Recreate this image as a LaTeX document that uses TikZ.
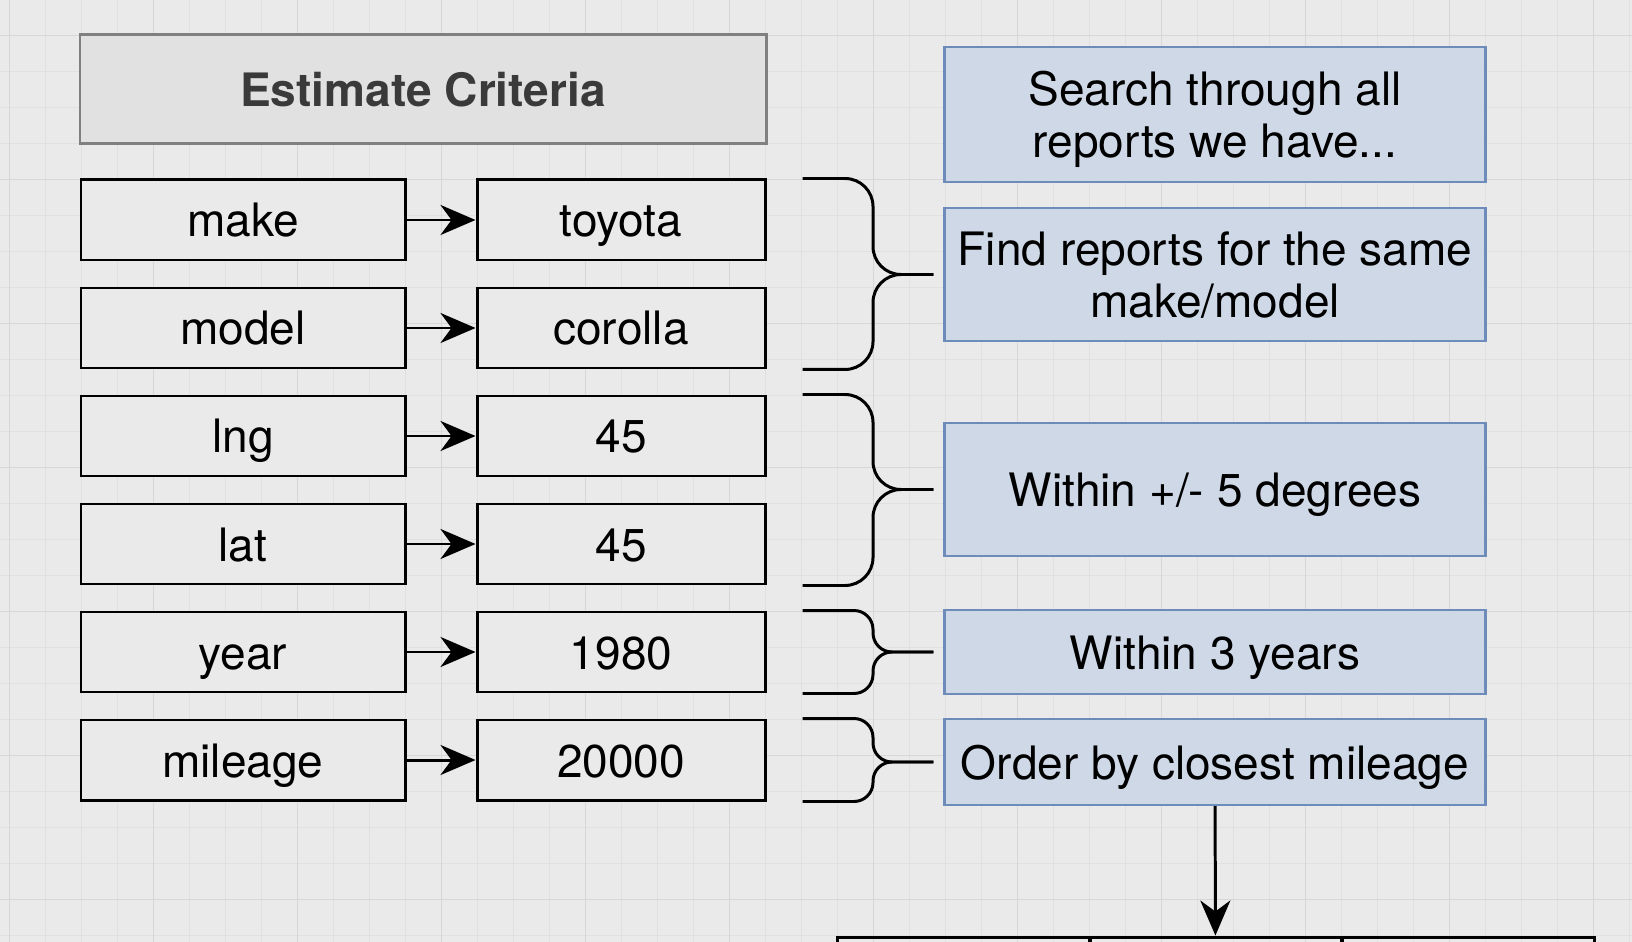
\documentclass[tikz,border=0pt]{standalone}
\usepackage{fontspec}
\setmainfont{TeX Gyre Heros}
\usetikzlibrary{arrows.meta}

\definecolor{bgcol}{RGB}{234,234,234}
\definecolor{gridminor}{RGB}{224,224,224}
\definecolor{gridmajor}{RGB}{215,215,215}
\definecolor{titlefill}{RGB}{225,225,225}
\definecolor{titleline}{RGB}{128,128,128}
\definecolor{titletext}{RGB}{58,58,58}
\definecolor{notefill}{RGB}{206,216,231}
\definecolor{noteline}{RGB}{110,140,186}

\tikzset{
    keybox/.style={draw=black, fill=bgcol, line width=0.85pt, minimum width=3.24cm, minimum height=0.8cm, text height=0.44cm, text depth=0.1cm},
    valbox/.style={keybox, minimum width=2.88cm},
    titlebox/.style={draw=titleline, fill=titlefill, line width=0.85pt, minimum width=6.86cm, minimum height=1.09cm, text=titletext, font=\fontsize{13.1}{14.8}\selectfont\bfseries},
    notebox/.style={draw=noteline, fill=notefill, line width=0.7pt, minimum width=5.41cm, align=center, inner sep=1pt},
    cellbox/.style={draw=black, line width=0.85pt, minimum width=2.53cm, minimum height=0.8cm},
    linkarrow/.style={line width=0.85pt, -{Stealth[length=3.5mm, width=3mm, inset=1.1mm]}},
    critbrace/.style={line width=0.85pt, rounded corners=2.8mm},
}

\begin{document}
\begin{tikzpicture}[x=1cm, y=-1cm, font=\fontsize{13.1}{14.8}\selectfont]
    % background and grid
    \fill[bgcol] (0,0) rectangle (16.32,9.42);
    \useasboundingbox (0,0) rectangle (16.32,9.42);
    \begin{scope}[y=1cm, shift={(0.093,-0.353)}]
        \draw[gridminor, line width=0.3pt, step=0.36] (-0.36,-9.72) grid (16.5,0.72);
        \draw[gridmajor, line width=0.3pt, step=1.44] (-1.44,-10.08) grid (16.5,1.44);
    \end{scope}

    \node[titlebox] (title) at (4.23, 0.895) {Estimate Criteria};

    % criteria rows
    \foreach \k/\v [count=\i] in {make/toyota, model/corolla, lng/45, lat/45, year/1980, mileage/20000} {
        \node[keybox] (k\i) at (2.43, {1.12+1.08*\i}) {\k};
        \node[valbox] (v\i) at (6.21, {1.12+1.08*\i}) {\v};
        \draw[linkarrow] (k\i) -- (v\i);
    }

    % what is done with them
    \node[notebox, minimum height=1.35cm, text depth=0cm] (search) at (12.15, 1.145) {Search through all\\reports we have...};
    \node[notebox, minimum height=1.33cm, text depth=0cm] (find) at (12.15, 2.745) {Find reports for the same\\make/model};
    \node[notebox, minimum height=1.33cm, text height=0.44cm, text depth=0.1cm] (degrees) at (12.15, 4.895) {Within +/- 5 degrees};
    \node[notebox, minimum height=0.84cm, text height=0.44cm, text depth=0.1cm] (years) at (12.15, 6.52) {Within 3 years};
    \node[notebox, minimum height=0.86cm, text height=0.44cm, text depth=0.1cm] (order) at (12.15, 7.62) {Order by closest mileage};

    % braces
    \coordinate (bx) at (8.73, 0);
    \draw[critbrace] ([xshift=3.6mm]v1.north east) -| (bx |- find.west) -- ([xshift=-1mm]find.west);
    \draw[critbrace] ([xshift=3.6mm]v2.south east) -| (bx |- find.west) -- ([xshift=-1mm]find.west);
    \draw[critbrace] ([xshift=3.6mm]v3.north east) -| (bx |- degrees.west) -- ([xshift=-1mm]degrees.west);
    \draw[critbrace] ([xshift=3.6mm]v4.south east) -| (bx |- degrees.west) -- ([xshift=-1mm]degrees.west);
    \draw[critbrace, rounded corners=1.9mm] ([xshift=3.6mm]v5.north east) -| (bx |- years.west) -- ([xshift=-1mm]years.west);
    \draw[critbrace, rounded corners=1.9mm] ([xshift=3.6mm]v5.south east) -| (bx |- years.west) -- ([xshift=-1mm]years.west);
    \draw[critbrace, rounded corners=1.9mm] ([xshift=3.6mm]v6.north east) -| (bx |- order.west) -- ([xshift=-1mm]order.west);
    \draw[critbrace, rounded corners=1.9mm] ([xshift=3.6mm]v6.south east) -| (bx |- order.west) -- ([xshift=-1mm]order.west);

    % results table below
    \node[cellbox] (cell1) at (9.635, 9.77) {};
    \node[cellbox] (cell2) at (12.155, 9.77) {};
    \node[cellbox] (cell3) at (14.675, 9.77) {};
    \draw[linkarrow] (order) -- (cell2);
\end{tikzpicture}
\end{document}
